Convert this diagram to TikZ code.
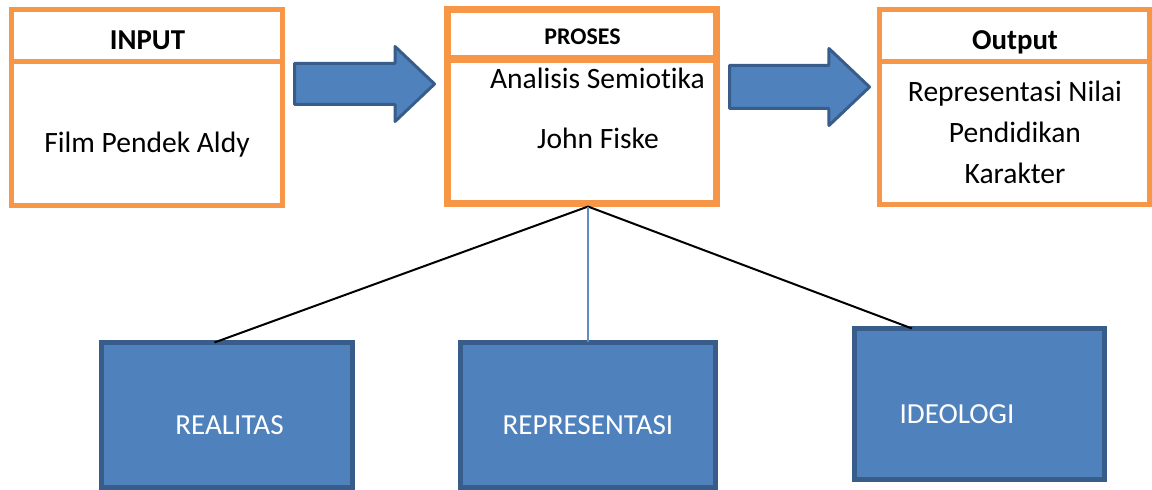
\documentclass[tikz,border=0pt]{standalone}
\usepackage{fontspec}
\setmainfont{Carlito}[RawFeature={-liga;-clig;-calt;-dlig}]
\usepackage{xcolor}
\definecolor{boxorange}{RGB}{247, 150, 70}
\definecolor{boxblue}{RGB}{79, 129, 189}
\definecolor{edgeblue}{RGB}{56, 93, 138}
\definecolor{lineblue}{RGB}{91, 142, 201}
\usepackage{tikz}
\usetikzlibrary{shapes.arrows, positioning, calc}

\begin{document}
\begin{tikzpicture}[x=0.025cm, y=-0.025cm]

        % Estilos
        \tikzstyle{head} = [rectangle, draw=boxorange, line width=0.125cm, inner sep=0pt, outer sep=0pt, minimum width=6.775cm, minimum height=1.2875cm]
        \tikzstyle{body} = [head, minimum height=3.6cm]
        \tikzstyle{bluebox} = [rectangle, draw=edgeblue, fill=boxblue, line width=0.125cm, inner sep=0pt, outer sep=0pt, minimum height=3.625cm]
        \tikzstyle{bigarrow} = [single arrow, draw=edgeblue, fill=boxblue, line width=0.075cm, line join=round, inner xsep=0pt, inner ysep=0.475cm, outer sep=0pt, minimum height=3.5cm, single arrow head extend=0.425cm, single arrow tip angle=87]
        \tikzstyle{ttl} = [font=\bfseries\fontsize{20.5}{24}\selectfont, inner sep=0pt, anchor=base]
        \tikzstyle{txt} = [font=\fontsize{21}{25}\selectfont, inner sep=0pt, anchor=base]
        \tikzstyle{wtxt} = [font=\fontsize{20.7}{24}\selectfont, text=white, inner sep=0pt, anchor=base]

        \useasboundingbox (0,0) rectangle (1152,490);

        % Blocos de cima
        \node [head] (inhead) at (147,35.75) {};
        \node [body, below=0pt of inhead] (inbody) {};
        \node [head, line width=0.175cm, minimum width=6.7125cm, minimum height=1.225cm] (prhead) at (582.25,34.5) {};
        \node [body, line width=0.175cm, minimum width=6.7125cm, below=0pt of prhead] (prbody) {};
        \node [head, minimum width=6.75cm] (outhead) at (1014.5,35.75) {};
        \node [body, minimum width=6.75cm, minimum height=3.575cm, below=0pt of outhead] (outbody) {};

        % Setas grandes
        \node [bigarrow, anchor=tail] (arrin) at (294.5,84) {};
        \node [bigarrow, anchor=tail, inner ysep=0.5cm] (arrout) at (729.5,87) {};

        % Textos
        \node [ttl] (intitle) at (147.5,50) {INPUT};
        \node [txt] (intext) at (147,153) {Film Pendek Aldy};
        \node [ttl, font=\bfseries\fontsize{17}{20}\selectfont] (prtitle) at (582.5,45) {PROSES};
        \node [txt] (prtext1) at (597.5,89) {Analisis Semiot\kern0pt ika};
        \node [txt] (prtext2) at (598,149) {John Fiske};
        \node [ttl] (outtitle) at (1015,50) {Output};
        \node [txt] (outtext1) at (1015,102) {Representasi Nilai};
        \node [txt] (outtext2) at (1015,143) {Pendidikan};
        \node [txt] (outtext3) at (1015,184) {Karakter};

        % Blocos de baixo
        \node [bluebox, minimum width=6.275cm] (realitas) at (227,415) {};
        \node [bluebox, minimum width=6.375cm] (repr) at (588,415) {};
        \node [bluebox, minimum width=6.25cm, minimum height=3.775cm] (ideologi) at (979.5,404) {};
        \node [wtxt] (realtext) at (229.5,435) {REALITAS};
        \node [wtxt] (reprtext) at (588,435) {REPRESENTASI};
        \node [wtxt] (ideotext) at (957,424) {IDEOLOGI};

        % Ligacoes
        \coordinate (hub) at ($(prbody.south -| repr.north)+(0,3.5)$);
        \draw [line width=0.05cm] (hub) -- ($(realitas.north west)!0.45!(realitas.north east)$);
        \draw [line width=0.05cm] (hub) -- ($(ideologi.north west)!0.23!(ideologi.north east)$);
        \draw [line width=0.04cm, draw=lineblue] (hub) -- (repr.north);
\end{tikzpicture}
\end{document}
